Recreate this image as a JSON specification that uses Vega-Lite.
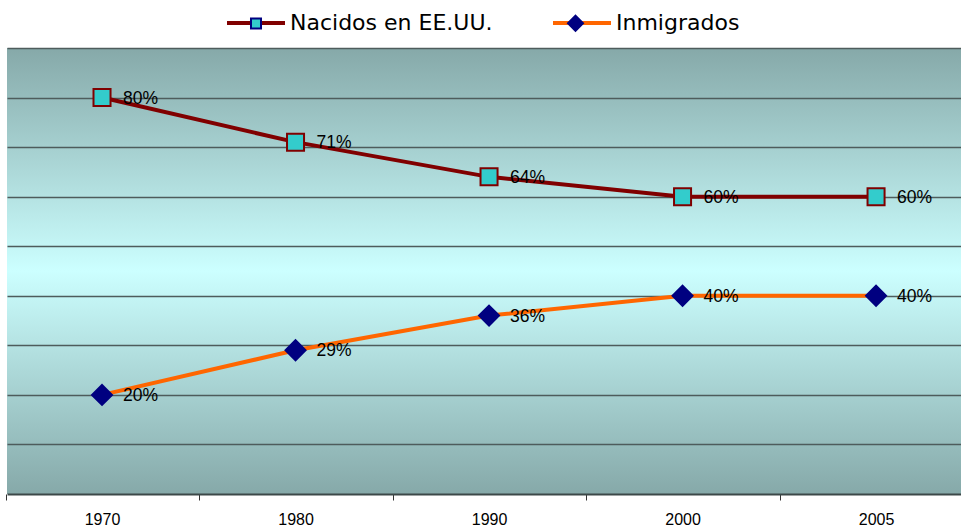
{
  "$schema": "https://vega.github.io/schema/vega-lite/v6.json",
  "width": 954,
  "height": 446,
  "autosize": {"type": "none"},
  "padding": {"left": 7, "top": 48, "right": 0, "bottom": 37},
  "background": "white",
  "config": {
    "view": {
      "stroke": null,
      "fill": {
        "gradient": "linear",
        "x1": 0, "y1": 0, "x2": 0, "y2": 1,
        "stops": [
          {"offset": 0, "color": "#86a9a9"},
          {"offset": 0.5, "color": "#ccffff"},
          {"offset": 1, "color": "#86a9a9"}
        ]
      }
    },
    "font": "Liberation Sans"
  },
  "data": {
    "values": [
      {"anio": "1970", "serie": "Nacidos en EE.UU.", "valor": 0.80},
      {"anio": "1980", "serie": "Nacidos en EE.UU.", "valor": 0.71},
      {"anio": "1990", "serie": "Nacidos en EE.UU.", "valor": 0.64},
      {"anio": "2000", "serie": "Nacidos en EE.UU.", "valor": 0.60},
      {"anio": "2005", "serie": "Nacidos en EE.UU.", "valor": 0.60},
      {"anio": "1970", "serie": "Inmigrados", "valor": 0.20},
      {"anio": "1980", "serie": "Inmigrados", "valor": 0.29},
      {"anio": "1990", "serie": "Inmigrados", "valor": 0.36},
      {"anio": "2000", "serie": "Inmigrados", "valor": 0.40},
      {"anio": "2005", "serie": "Inmigrados", "valor": 0.40}
    ]
  },
  "encoding": {
    "x": {
      "field": "anio",
      "type": "ordinal",
      "scale": {"type": "point", "padding": 0.465, "align": 0.528},
      "axis": {
        "title": null,
        "labelAngle": 0,
        "labelFont": "Liberation Sans",
        "labelFontSize": 16,
        "labelColor": "#000000",
        "labelPadding": 11,
        "labelOffset": 96.5,
        "tickOffset": -96.5,
        "domainColor": "#3c4848",
        "domainWidth": 2,
        "tickColor": "#333333",
        "tickWidth": 1,
        "tickSize": 6,
        "grid": false
      }
    },
    "y": {
      "field": "valor",
      "type": "quantitative",
      "scale": {"domain": [0, 0.9], "nice": false, "zero": true},
      "axis": {
        "title": null,
        "labels": false,
        "ticks": false,
        "domain": false,
        "grid": true,
        "values": [0.1, 0.2, 0.3, 0.4, 0.5, 0.6, 0.7, 0.8, 0.9],
        "gridColor": "#4e5c5c",
        "gridWidth": 1.6,
        "gridOpacity": 1
      }
    }
  },
  "layer": [
    {
      "mark": {"type": "line", "strokeWidth": 4},
      "encoding": {
        "stroke": {
          "field": "serie",
          "type": "nominal",
          "scale": {"domain": ["Nacidos en EE.UU.", "Inmigrados"], "range": ["#800000", "#ff6600"]},
          "legend": {
            "title": null,
            "orient": "none",
            "legendX": 218,
            "legendY": -56,
            "direction": "horizontal",
            "symbolType": "stroke",
            "symbolSize": 3364,
            "symbolStrokeWidth": 4,
            "labelFont": "DejaVu Sans",
            "labelFontSize": 22,
            "labelColor": "#000000",
            "labelOffset": 3,
            "labelLimit": 0,
            "columnPadding": 52,
            "padding": 0,
            "zindex": 1
          }
        }
      }
    },
    {
      "mark": {"type": "point", "filled": true, "opacity": 1, "strokeWidth": 2},
      "encoding": {
        "fill": {
          "field": "serie",
          "type": "nominal",
          "sort": "descending",
          "scale": {"range": ["#33cccc", "#000080"]},
          "legend": {
            "title": null,
            "orient": "none",
            "legendX": 218,
            "legendY": -56,
            "direction": "horizontal",
            "symbolSize": 3600,
            "symbolStrokeWidth": 2,
            "symbolOpacity": 1,
            "labelExpr": "''",
            "labelFont": "DejaVu Sans",
            "labelFontSize": 22,
            "labelOffset": 3,
            "labelLimit": 0,
            "columnPadding": 254.5,
            "padding": 0,
            "zindex": 2
          }
        },
        "shape": {
          "field": "serie",
          "type": "nominal",
          "sort": "descending",
          "scale": {"range": ["M-0.167,-0.167H0.167V0.167H-0.167Z", "M0,-0.25L0.25,0L0,0.25L-0.25,0Z"]},
          "legend": {
            "title": null,
            "orient": "none",
            "legendX": 218,
            "legendY": -56,
            "direction": "horizontal",
            "symbolSize": 3600,
            "symbolStrokeWidth": 2,
            "symbolOpacity": 1,
            "labelExpr": "''",
            "labelFont": "DejaVu Sans",
            "labelFontSize": 22,
            "labelOffset": 3,
            "labelLimit": 0,
            "columnPadding": 254.5,
            "padding": 0,
            "zindex": 2
          }
        },
        "stroke": {
          "condition": {"test": "(datum.serie || datum.value) === 'Nacidos en EE.UU.'", "value": "#800000"},
          "value": "#000080"
        },
        "size": {
          "condition": {"test": "datum.serie === 'Nacidos en EE.UU.'", "value": 10400},
          "value": 6400
        }
      }
    },
    {
      "mark": {
        "type": "text",
        "align": "left",
        "baseline": "middle",
        "dx": 21,
        "dy": 1,
        "font": "Liberation Sans",
        "fontSize": 17.5,
        "color": "#000000"
      },
      "encoding": {
        "text": {"field": "valor", "type": "quantitative", "format": ".0%"}
      }
    }
  ]
}
